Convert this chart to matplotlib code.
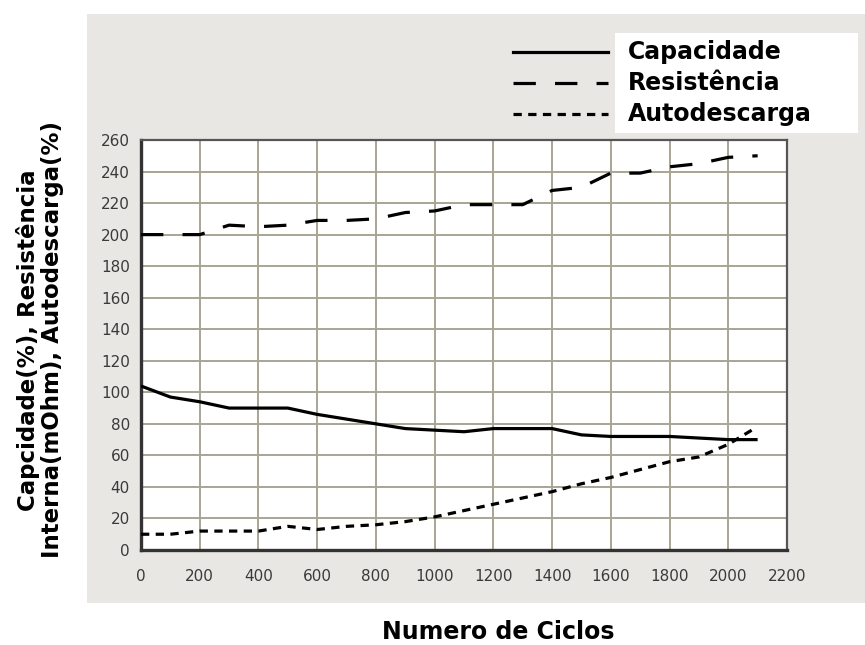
import matplotlib
matplotlib.use('Agg')
import matplotlib.pyplot as plt
from matplotlib.patches import Rectangle
from matplotlib.lines import Line2D

# dados
ciclos = [0, 100, 200, 300, 400, 500, 600, 700, 800, 900, 1000,
          1100, 1200, 1300, 1400, 1500, 1600, 1700, 1800, 1900, 2000, 2100]
capacidade = [104, 97, 94, 90, 90, 90, 86, 83, 80, 77, 76,
              75, 77, 77, 77, 73, 72, 72, 72, 71, 70, 70]
resistencia = [200, 200, 200, 206, 205, 206, 209, 209, 210, 214, 215,
               219, 219, 219, 228, 230, 239, 239, 243, 245, 249, 250]
ciclos_auto = [0, 100, 200, 300, 400, 500, 600, 700, 800, 900, 1000,
               1100, 1200, 1300, 1400, 1500, 1600, 1700, 1800, 1900, 2000, 2080]
autodescarga = [10, 10, 12, 12, 12, 15, 13, 15, 16, 18, 21,
                25, 29, 33, 37, 42, 46, 51, 56, 59, 67, 76]

x_ticks = list(range(0, 2201, 200))
y_ticks = list(range(0, 261, 20))

series = [
    ('Capacidade', ciclos, capacidade, '-'),
    ('Resistência', ciclos, resistencia, (0, (7, 6))),
    ('Autodescarga', ciclos_auto, autodescarga, (0, (2.6, 2))),
]

fig = plt.figure(figsize=(8.65, 6.45), dpi=100)
fig.patch.set_facecolor('white')

# fundo pontilhado (aproximado por cor sólida)
fig.add_artist(Rectangle((87 / 865, 1 - 603 / 645), 1 - 87 / 865, (603 - 14) / 645,
                         transform=fig.transFigure, facecolor='#e9e7e4',
                         edgecolor='none', zorder=0))

ax = fig.add_axes([141 / 865, 1 - 550 / 645, (787 - 141) / 865, (550 - 140) / 645])
ax.set_facecolor('white')

for nome, xs, ys, estilo in series:
    ax.plot(xs, ys, color='black', linestyle=estilo, linewidth=2.3,
            solid_capstyle='butt', dash_capstyle='butt', zorder=3)

ax.set_xlim(0, 2200)
ax.set_ylim(0, 260)
ax.set_xticks(x_ticks)
ax.set_yticks(y_ticks)
ax.grid(True, color='#a8a594', linewidth=1.4)
ax.set_axisbelow(True)
ax.tick_params(length=0, labelsize=11, labelcolor='#3a3a3a')
ax.tick_params(axis='x', pad=14)
ax.tick_params(axis='y', pad=8)

for lado in ['top', 'right']:
    ax.spines[lado].set_color('#555555')
    ax.spines[lado].set_linewidth(1.6)
for lado in ['left', 'bottom']:
    ax.spines[lado].set_color('#333333')
    ax.spines[lado].set_linewidth(2.4)

fig.text(498 / 865, 1 - 632 / 645, 'Numero de Ciclos', ha='center', va='center',
         fontsize=17, fontweight='bold')
fig.text(40 / 865, 1 - 340 / 645,
         'Capcidade(%), Resistência\nInterna(mOhm), Autodescarga(%)',
         ha='center', va='center', rotation=90, fontsize=16.5, fontweight='bold',
         linespacing=1.1)

# legenda desenhada à mão
fig.add_artist(Rectangle((615 / 865, 1 - 133 / 645), (858 - 615) / 865, 100 / 645,
                         transform=fig.transFigure, facecolor='white',
                         edgecolor='none', zorder=1))
for i, (nome, xs, ys, estilo) in enumerate(series):
    yy = 1 - (52 + 31 * i) / 645
    fig.add_artist(Line2D([513 / 865, 608 / 865], [yy, yy], transform=fig.transFigure,
                          color='black', linestyle=estilo, linewidth=2.3,
                          dash_capstyle='butt', zorder=2))
    fig.text(628 / 865, yy, nome, ha='left', va='center', fontsize=17,
             fontweight='bold', zorder=3)

fig.savefig('out.png', dpi=100)
